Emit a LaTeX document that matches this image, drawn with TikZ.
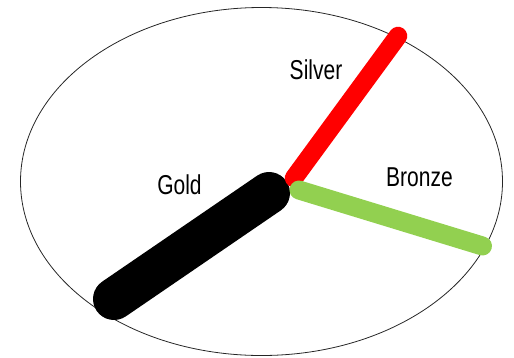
\documentclass[tikz,border=0pt]{standalone}
\usepackage{fontspec}
\setmainfont{Liberation Sans}
\begin{document}
\begin{tikzpicture}[x=1pt,y=-1pt,
  bar/.style={line cap=round},
  lab/.style={inner sep=0pt,font=\fontsize{21}{24}\selectfont}]
\useasboundingbox (0,0) rectangle (514,357);
\draw[line width=0.8pt,black!85] (261.5,181.5) ellipse [x radius=241, y radius=174];
\coordinate (g1) at (114,299);
\coordinate (g2) at (269,193);
\coordinate (s1) at (294,178);
\coordinate (s2) at (398,36);
\coordinate (b1) at (299,190);
\coordinate (b2) at (482.5,246);
\draw[bar,line width=42pt,black] (g1) -- (g2);
\draw[bar,line width=18.5pt,red] (s1) -- (s2);
\draw[bar,line width=19pt,color={rgb,255:red,146;green,208;blue,80}] (b1) -- (b2);
\node[lab] (silver) at (316,70) {\scalebox{1}[1.3]{Silver}};
\node[lab] (bronze) at (419.5,177) {\scalebox{1}[1.3]{Bronze}};
\node[lab] (gold) at (179.5,185) {\scalebox{1}[1.3]{Gold}};
\end{tikzpicture}
\end{document}
